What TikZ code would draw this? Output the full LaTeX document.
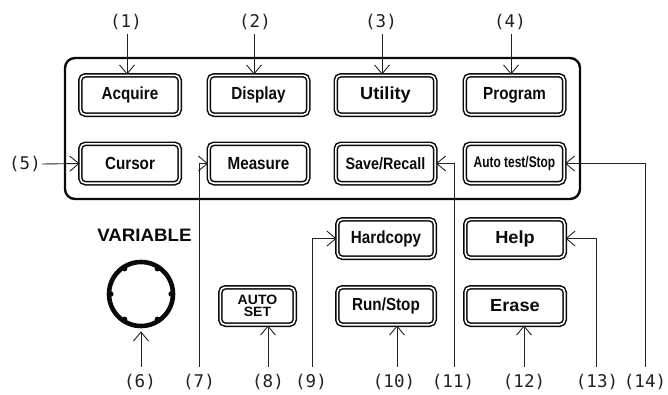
\documentclass[tikz,border=0pt]{standalone}
\usepackage{fontspec}
\usetikzlibrary{arrows.meta,calc}
\newfontfamily\btnfont[FakeStretch=0.87]{Liberation Sans}
\newfontfamily\widefont[FakeStretch=1.04]{Liberation Sans}
\newfontfamily\lblfont{DejaVu Sans Mono}
\definecolor{ink}{HTML}{0A0A0A}
\definecolor{lbl}{HTML}{222222}
\begin{document}
\begin{tikzpicture}[x=1pt,y=-1pt,
  btn/.style={draw=ink, line width=1.5pt, double=white, double distance=1.6pt,
    rounded corners=5pt, minimum width=99.4pt, minimum height=39.4pt,
    inner sep=0pt, text=ink, font=\btnfont\bfseries\fontsize{17.5}{17.5}\selectfont},
  lab/.style={text=lbl, inner sep=1pt, font=\lblfont\fontsize{17.5}{17.5}\selectfont},
  arr/.style={draw=lbl, line width=0.9pt, -{Straight Barb[length=9pt,width=15pt]}}]
\useasboundingbox (0,0) rectangle (668,394);
% panel
\draw[ink, line width=2.4pt, rounded corners=10pt] (65,58) rectangle (580,199);
% buttons row 1
\node[btn] (acq) at (130,95) {Acquire};
\node[btn] (disp) at (258.5,95) {Display};
\node[btn, font=\widefont\bfseries\fontsize{17.5}{17.5}\selectfont] (util) at (385.5,95) {Utility};
\node[btn] (prog) at (514.5,95) {Program};
% row 2
\node[btn] (curs) at (130,163.5) {Cursor};
\node[btn] (meas) at (258.5,163.5) {Measure};
\node[btn, font=\btnfont\bfseries\fontsize{16.5}{16.5}\selectfont] (save) at (385.5,163.5) {Save/Recall};
\node[btn, font=\btnfont\bfseries\fontsize{15.5}{15.5}\selectfont\addfontfeature{FakeStretch=0.77}] (auto) at (514.5,163.5) {Auto test/Stop};
% lower buttons
\node[btn, minimum width=97.4pt, minimum height=38.4pt] (hard) at (386,238.5) {Hardcopy};
\node[btn, minimum width=99.4pt, minimum height=38.4pt, font=\widefont\bfseries\fontsize{17.5}{17.5}\selectfont] (help) at (515,238.5) {Help};
\node[btn, minimum width=97.4pt, minimum height=37.4pt] (run) at (386,306) {Run/Stop};
\node[btn, minimum width=99.4pt, minimum height=37.4pt, font=\widefont\bfseries\fontsize{17.5}{17.5}\selectfont] (erase) at (515,306) {Erase};
\node[btn, minimum width=74.4pt, minimum height=37.4pt, align=center,
  font=\widefont\bfseries\fontsize{13.5}{12.5}\selectfont] (aset) at (257.5,306) {AUTO\\SET};
% variable knob
\node[font=\widefont\bfseries\fontsize{18}{18}\selectfont, text=ink, inner sep=0pt] (var) at (144.5,235) {VARIABLE};
\node[draw=ink, line width=4.6pt, circle, minimum size=64pt, inner sep=0pt] (knob) at (141,294) {};
\foreach \a in {0,57,123,180,237,303}
  \fill[ink] ($(knob.center)+(\a:-30.2)$) circle (2.8pt);
% labels
\node[lab] (l1) at (126,22) {(1)};
\node[lab] (l2) at (255,22) {(2)};
\node[lab] (l3) at (381,22) {(3)};
\node[lab] (l4) at (510,22) {(4)};
\node[lab] (l5) at (25,164) {(5)};
\node[lab] (l6) at (140,382) {(6)};
\node[lab] (l7) at (199,382) {(7)};
\node[lab] (l8) at (268,382) {(8)};
\node[lab] (l9) at (311,382) {(9)};
\node[lab] (l10) at (394,382) {(10)};
\node[lab] (l11) at (453,382) {(11)};
\node[lab] (l12) at (524,382) {(12)};
\node[lab] (l13) at (597,382) {(13)};
\node[lab] (l14) at (645,382) {(14)};
% connectors
\coordinate (t1) at (127,34);
\coordinate (t2) at (254,34);
\coordinate (t3) at (382,34);
\coordinate (t4) at (511,34);
\draw[arr] (t1) -- (t1 |- acq.north);
\draw[arr] (t2) -- (t2 |- disp.north);
\draw[arr] (t3) -- (t3 |- util.north);
\draw[arr] (t4) -- (t4 |- prog.north);
\draw[arr] (l5.east) -- (curs.west);
\coordinate (b6) at (141,367);
\coordinate (b7) at (199,367);
\coordinate (b8) at (268,367);
\coordinate (b9) at (312,367);
\coordinate (b10) at (397,367);
\coordinate (b11) at (454,367);
\coordinate (b12) at (524,367);
\coordinate (b13) at (596,367);
\coordinate (b14) at (645,367);
\draw[arr] (b6) -- ($(knob.south)+(0,3)$);
\draw[arr] (b7) |- (meas.west);
\draw[arr] (b8) -- (b8 |- aset.south);
\draw[arr] (b9) |- (hard.west);
\draw[arr] (b10) -- (b10 |- run.south);
\draw[arr] (b11) |- (save.east);
\draw[arr] (b12) -- (b12 |- erase.south);
\draw[arr] (b13) |- (help.east);
\draw[arr] (b14) |- (auto.east);
\end{tikzpicture}
\end{document}
